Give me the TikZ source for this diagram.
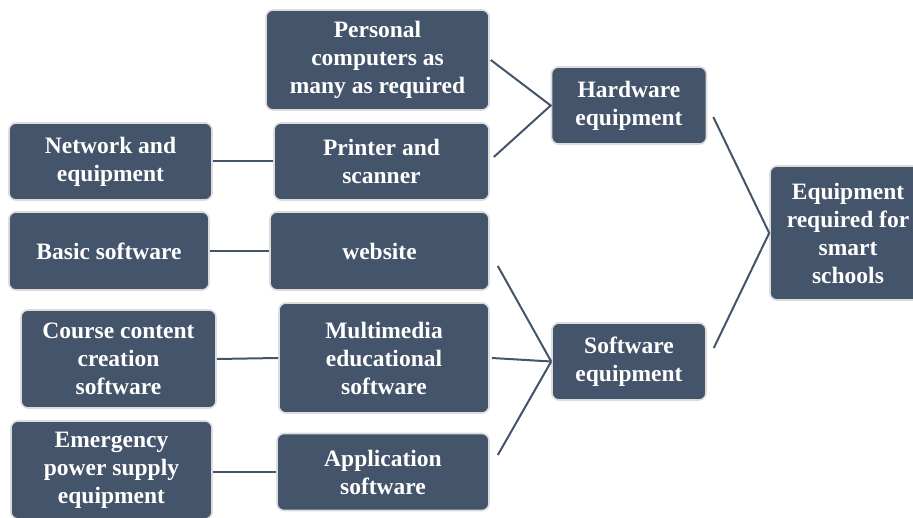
\documentclass[tikz,border=0pt]{standalone}
\usepackage{fontspec}
\setmainfont{Liberation Serif}
\definecolor{boxfill}{HTML}{44546A}
\definecolor{boxedge}{HTML}{DCDCDC}
\begin{document}
\begin{tikzpicture}[x=1pt,y=-1pt,
  bx/.style={draw=boxedge, line width=1.6pt, fill=boxfill, rounded corners=7pt,
    text=white, font=\fontsize{23.5}{28}\selectfont\bfseries, align=center,
    inner sep=0pt},
  link/.style={draw=boxfill, line width=2pt}]
\useasboundingbox (0,0) rectangle (913,518);
\node[bx, minimum width=223pt, minimum height=100pt] (pc) at (377.5,60) {Personal\\computers as\\many as required};
\node[bx, minimum width=215pt, minimum height=77pt] (printer) at (381.5,161.5) {Printer and\\scanner};
\node[bx, minimum width=203pt, minimum height=77pt] (network) at (110.5,161.5) {Network and\\equipment};
\node[bx, minimum width=200pt, minimum height=78pt] (basic) at (109,251) {Basic software};
\node[bx, minimum width=219pt, minimum height=78pt] (website) at (379.5,251) {website};
\node[bx, minimum width=195pt, minimum height=98pt] (course) at (118.5,359) {Course content\\creation\\software};
\node[bx, minimum width=210pt, minimum height=110pt] (multi) at (384,358) {Multimedia\\educational\\software};
\node[bx, minimum width=201pt, minimum height=98pt] (emerg) at (111.5,470) {Emergency\\power supply\\equipment};
\node[bx, minimum width=212pt, minimum height=77pt] (app) at (383,472) {Application\\software};
\node[bx, minimum width=155pt, minimum height=77pt] (hw) at (629,105.5) {Hardware\\equipment};
\node[bx, minimum width=154pt, minimum height=77pt] (sw) at (629,361.5) {Software\\equipment};
\node[bx, minimum width=156pt, minimum height=134pt] (eq) at (848,233) {Equipment\\required for\\smart\\schools};
% connector end points
\coordinate (pcA) at ([xshift=1pt]pc.east);
\coordinate (prA) at ([xshift=4pt,yshift=4.5pt]printer.east);
\coordinate (weA) at ([xshift=8pt,yshift=-15pt]website.east);
\coordinate (muA) at ([xshift=2pt]multi.east);
\coordinate (apA) at ([xshift=8pt,yshift=17pt]app.east);
\coordinate (hwA) at ([xshift=6pt,yshift=-11.5pt]hw.east);
\coordinate (swA) at ([xshift=7pt,yshift=13.5pt]sw.east);
\draw[link] (pcA) -- (hw.west) -- (prA);
\draw[link] (network.east) -- (printer.west);
\draw[link] (basic.east) -- (website.west);
\draw[link] (course.east) -- (multi.west);
\draw[link] (emerg.east |- app.west) -- (app.west);
\draw[link] (weA) -- (sw.west);
\draw[link] (muA) -- (sw.west);
\draw[link] (apA) -- (sw.west);
\draw[link] (hwA) -- (eq.west) -- (swA);
\end{tikzpicture}
\end{document}
